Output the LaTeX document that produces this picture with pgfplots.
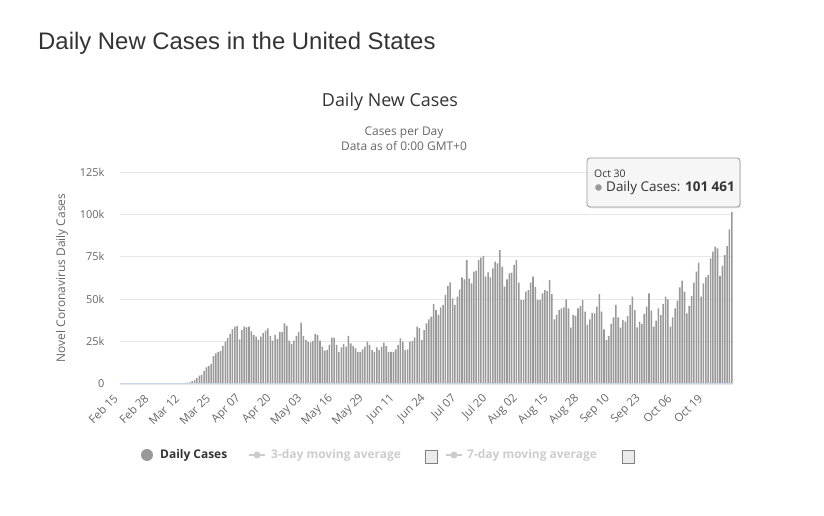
\documentclass[border=0pt]{standalone}
\usepackage{pgfplots}
\pgfplotsset{compat=1.18}
\usepackage{fontspec}
\setmainfont{Open Sans}
\newfontfamily\titlefont{Liberation Sans}
\usetikzlibrary{shadows}
\definecolor{bargray}{HTML}{999999}
\definecolor{txtgray}{HTML}{666666}
\definecolor{dark}{HTML}{333333}
\definecolor{gridc}{HTML}{E6E6E6}
\definecolor{axisline}{HTML}{CCD6EB}
\definecolor{hiddenc}{HTML}{CCCCCC}
\begin{document}
\begin{tikzpicture}[x=1bp,y=1bp]
\useasboundingbox (0,0) rectangle (824,516);
\begin{axis}[
  at={(120bp,132bp)}, anchor=south west,
  width=613bp, height=212bp, scale only axis,
  xmin=-0.5, xmax=258.5, ymin=0, ymax=125000,
  axis line style={draw=none},
  ymajorgrids, grid style={gridc, line width=0.8bp},
  major tick length=0pt,
  ytick={0,25000,50000,75000,100000,125000},
  yticklabels={0,25k,50k,75k,100k,125k},
  yticklabel style={font=\fontsize{11}{13}\selectfont, text=txtgray, xshift=-12bp},
  xtick={0,13,...,247},
  xticklabels={Feb 15,Feb 28,Mar 12,Mar 25,Apr 07,Apr 20,May 03,May 16,May 29,Jun 11,Jun 24,Jul 07,Jul 20,Aug 02,Aug 15,Aug 28,Sep 10,Sep 23,Oct 06,Oct 19},
  xticklabel style={yshift=-10bp, xshift=-3bp, rotate=45, anchor=east, font=\fontsize{11.5}{13}\selectfont, text=txtgray},
  scaled y ticks=false,
  ybar, bar width=1.55bp,
]
\addplot[fill=bargray, draw=none] coordinates {
(0,0) (1,0) (2,0) (3,0) (4,0) (5,0) (6,2) (7,0) (8,0) (9,0) (10,0) (11,0) (12,1) (13,2) (14,8)
(15,8) (16,24) (17,24) (18,27) (19,75) (20,98) (21,119) (22,116) (23,166) (24,338) (25,442) (26,518) (27,668)
(28,800) (29,1000) (30,1700) (31,2500) (32,3600) (33,4900) (34,5500) (35,7800) (36,9800) (37,10600)
(38,11800) (39,16500) (40,18000) (41,19000) (42,19600) (43,22500) (44,25000) (45,27000) (46,29500)
(47,32400) (48,33800) (49,34200) (50,26300) (51,31800) (52,33800) (53,33400) (54,33800) (55,31000)
(56,29000) (57,28000) (58,26000) (59,28000) (60,30000) (61,31500)
(62,32800) (63,28300) (64,25500) (65,28900) (66,26500) (67,30700) (68,30700) (69,35800) (70,34200)
(71,25500) (72,23600) (73,25500) (74,28300) (75,30800) (76,36200) (77,28300) (78,26000) (79,25000)
(80,24600) (81,25300) (82,29500) (83,28900) (84,25500) (85,22000) (86,19700) (87,20000) (88,23000)
(89,27300) (90,27300) (91,23000) (92,19000) (93,21600) (94,23600) (95,22000) (96,28300) (97,24000)
(98,22400) (99,21000) (100,19000) (101,19000)
(102,20400) (103,22000) (104,25000) (105,23000) (106,20000) (107,19000) (108,21600) (109,20000)
(110,22000) (111,24400) (112,22400) (113,19000) (114,18900) (115,18900) (116,20400) (117,23000)
(118,26900) (119,25000) (120,20000) (121,20400) (122,25000) (123,25300) (124,27500) (125,33800)
(126,33000) (127,25900) (128,31800) (129,35800) (130,38100) (131,39700) (132,47200) (133,43600)
(134,40700) (135,45200) (136,46600) (137,52500) (138,57800) (139,59900) (140,50500) (141,46600)
(142,51500) (143,55800) (144,62900) (145,61700) (146,73100) (147,62300) (148,59300) (149,66200)
(150,66800) (151,73100) (152,74500) (153,75500) (154,63300) (155,65800) (156,62900) (157,68200)
(158,72100) (159,71100) (160,79000) (161,69200) (162,57400) (163,61700) (164,65200) (165,65600)
(166,70200) (167,73100) (168,59700) (169,49500) (170,49500) (171,54400) (172,55400) (173,59700)
(174,63300) (175,57200) (176,49500) (177,49500) (178,53500) (179,55400) (180,54800) (181,61300)
(182,53000) (183,38100) (184,40700) (185,43600) (186,44600) (187,45200) (188,49900) (189,44600)
(190,33200) (191,40700) (192,40100) (193,44600) (194,46000) (195,49500) (196,42600) (197,34800)
(198,38100) (199,42000) (200,41700) (201,45600) (202,53000) (203,42600) (204,32200) (205,25900)
(206,28300) (207,35400) (208,39300) (209,46600) (210,39300) (211,33200) (212,37700) (213,36700)
(214,40100) (215,46600) (216,51500) (217,43600) (218,33400) (219,36700) (220,35400) (221,41300)
(222,45600) (223,53400) (224,43200) (225,33800) (226,37300) (227,44600) (228,40700) (229,47200)
(230,51500) (231,49900) (232,33800) (233,39300) (234,44600) (235,49100) (236,57000) (237,60900)
(238,54400) (239,41700) (240,46000) (241,51900) (242,59700) (243,66200) (244,71500) (245,51500)
(246,59300) (247,62900) (248,64300) (249,74100) (250,78000) (251,81000) (252,80000) (253,63700)
(254,69600) (255,76000) (256,81300) (257,91200) (258,101461)
};
\draw[axisline, line width=1bp] (axis cs:-0.5,0) -- (axis cs:258.5,0);
\end{axis}
% titles
\node[anchor=base west, inner sep=0, text=dark, font=\titlefont\fontsize{24}{28}\selectfont] at (38,466) {Daily New Cases in the United States};
\node[anchor=base, inner sep=0, text=dark, font=\fontsize{18}{22}\selectfont] at (390,409) {Daily New Cases};
\node[anchor=base, inner sep=0, text=txtgray, font=\fontsize{12}{14}\selectfont] at (404,380) {Cases per Day};
\node[anchor=base, inner sep=0, text=txtgray, font=\fontsize{12}{14}\selectfont] at (404,365) {Data as of 0:00 GMT+0};
% y label
\node[rotate=90, anchor=center, inner sep=0, text=txtgray, font=\fontsize{12}{14}\selectfont] at (62,238) {Novel Coronavirus Daily Cases};
% tooltip
\filldraw[draw=bargray, fill=white!97!black, fill opacity=0.92, rounded corners=3bp, line width=0.8bp,
  drop shadow={opacity=0.2, shadow xshift=1bp, shadow yshift=-1.5bp}] (587,309) rectangle (740,358);
\node[anchor=base west, inner sep=0, text=dark, font=\fontsize{10.5}{12}\selectfont] at (594,338) {Oct 30};
\fill[bargray] (598.5,328.5) circle (3.3);
\node[anchor=base west, inner sep=0, text=dark, font=\fontsize{13.5}{15}\selectfont] at (606,324) {Daily Cases: \textbf{101 461}};
% legend
\fill[bargray] (147,61) circle (6);
\node[anchor=base west, inner sep=0, text=dark, font=\bfseries\fontsize{12}{14}\selectfont] at (160,57) {Daily Cases};
\draw[hiddenc, line width=1.5bp] (249,61) -- (265,61);
\fill[hiddenc] (257,61) circle (3.5);
\node[anchor=base west, inner sep=0, text=hiddenc, font=\bfseries\fontsize{12}{14}\selectfont] at (271,57) {3-day moving average};
\filldraw[draw=gray, fill=white!92!black, line width=0.8bp] (425,53) rectangle (437,66);
\draw[hiddenc, line width=1.5bp] (446,61) -- (462,61);
\fill[hiddenc] (454,61) circle (3.5);
\node[anchor=base west, inner sep=0, text=hiddenc, font=\bfseries\fontsize{12}{14}\selectfont] at (467,57) {7-day moving average};
\filldraw[draw=gray, fill=white!92!black, line width=0.8bp] (622,53) rectangle (634,66);
\end{tikzpicture}
\end{document}
